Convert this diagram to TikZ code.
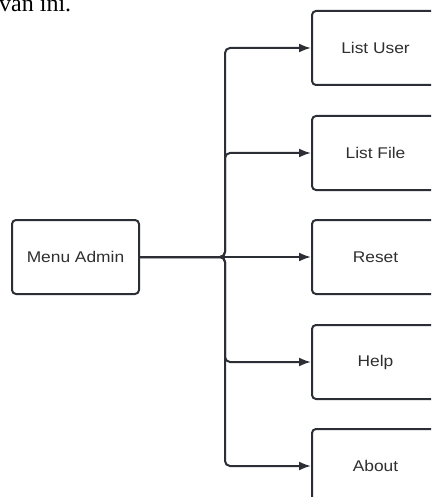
\documentclass[tikz,border=0pt]{standalone}
\usepackage{fontspec}
\setmainfont{Liberation Sans}
\newfontfamily\serifont{Liberation Serif}
\usetikzlibrary{arrows.meta}
\definecolor{ln}{HTML}{2B2F35}
\definecolor{tx}{HTML}{2F2F2F}
\newcommand{\sx}[1]{\scalebox{1.12}[1]{#1}}
\begin{document}
\begin{tikzpicture}[x=1pt,y=-1pt,
  box/.style={draw=ln,line width=2pt,rounded corners=4pt,minimum width=127pt,minimum height=74pt,inner sep=0pt,text=tx,font=\fontsize{15.5}{18}\selectfont},
  conn/.style={draw=ln,line width=2pt,rounded corners=5pt,-{Latex[length=12pt,width=9pt]}}]
\useasboundingbox (0,0) rectangle (431,497);
\clip (0,0) rectangle (431,497);
\node[anchor=base west,inner sep=0pt,font=\serifont\fontsize{24}{28}\selectfont] (top) at (-1,12) {van ini.};
\node[box] (admin) at (75.5,257) {\sx{Menu Admin}};
\node[box] (user) at (375.5,48) {\sx{List User}};
\node[box] (file) at (375.5,153) {\sx{List File}};
\node[box] (reset) at (375.5,257) {\sx{Reset}};
\node[box] (help) at (375.5,362) {\sx{Help}};
\node[box] (about) at (375.5,466) {\sx{About}};
\coordinate (j) at (225,257);
\draw[conn] (admin.east) -- (j) |- (user.west);
\draw[conn] (admin.east) -- (j) |- (file.west);
\draw[conn] (admin.east) -- (reset.west);
\draw[conn] (admin.east) -- (j) |- (help.west);
\draw[conn] (admin.east) -- (j) |- (about.west);
\end{tikzpicture}
\end{document}
